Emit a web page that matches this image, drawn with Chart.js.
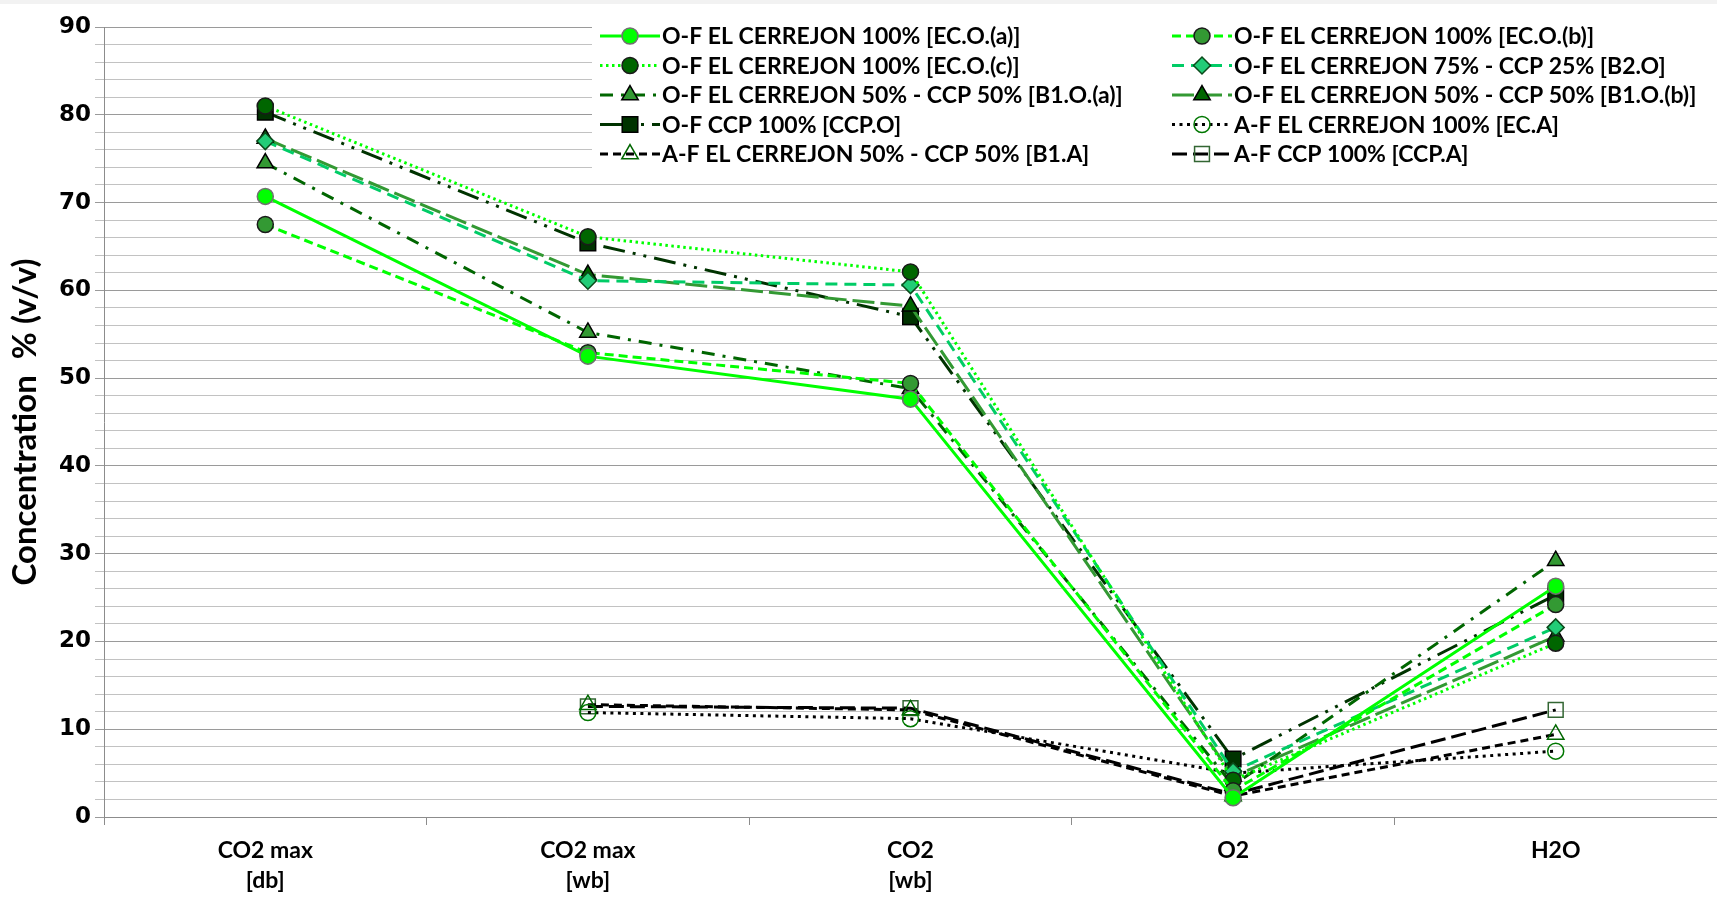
<!DOCTYPE html>
<html>
<head>
<meta charset="utf-8">
<script src="https://cdn.jsdelivr.net/npm/chart.js@4/dist/chart.umd.min.js"></script>
<style>
  html, body { margin: 0; padding: 0; background: #fff; }
  #wrap { width: 1717px; height: 910px; }
</style>
</head>
<body>
<div id="wrap"><canvas id="chart" width="1717" height="910"></canvas></div>
<script>
const categories = [["CO2 max", "[db]"], ["CO2 max", "[wb]"], ["CO2", "[wb]"], "O2", "H2O"];

const ecoA = [70.7, 52.5, 47.6, 2.2, 26.3];
const ecoB = [67.5, 52.9, 49.4, 3.0, 24.2];
const ecoC = [81.0, 66.1, 62.1, 4.2, 19.8];
const b2o  = [77.0, 61.1, 60.6, 5.2, 21.6];
const b1oA = [74.5, 55.2, 48.8, 3.6, 29.2];
const b1oB = [77.3, 61.8, 58.2, 4.6, 20.6];
const ccpO = [80.3, 65.4, 57.0, 6.6, 25.3];
const ecA  = [null, 11.9, 11.2, 5.0, 7.5];
const b1A  = [null, 12.8, 12.2, 2.4, 9.4];
const ccpA = [null, 12.6, 12.4, 2.6, 12.2];

const names = [
  "O-F EL CERREJON 100% [EC.O.(a)]",
  "O-F EL CERREJON 100% [EC.O.(b)]",
  "O-F EL CERREJON 100% [EC.O.(c)]",
  "O-F EL CERREJON 75% - CCP 25% [B2.O]",
  "O-F EL CERREJON 50% - CCP 50% [B1.O.(a)]",
  "O-F EL CERREJON 50% - CCP 50% [B1.O.(b)]",
  "O-F CCP 100% [CCP.O]",
  "A-F EL CERREJON 100% [EC.A]",
  "A-F EL CERREJON 50% - CCP 50% [B1.A]",
  "A-F CCP 100% [CCP.A]"
];

function ds(label, data, line, dash, style, fill, edge, r) {
  return {
    label, data,
    borderColor: line, borderWidth: 3, borderDash: dash, tension: 0,
    pointStyle: style, pointRadius: r, pointHoverRadius: r,
    pointBackgroundColor: fill, pointBorderColor: edge, pointBorderWidth: 1.5,
    spanGaps: false
  };
}

const datasets = [
  ds(names[0], ecoA, "#00ff00", [], "circle", "#00ff00", "#707070", 8),
  ds(names[1], ecoB, "#00ff00", [9, 5], "circle", "#339933", "#1a1a1a", 8),
  ds(names[2], ecoC, "#00ff00", [2.5, 3.5], "circle", "#006600", "#1a1a1a", 8),
  ds(names[3], b2o, "#00cc66", [12, 7], "rectRot", "#22cc77", "#0a4a1a", 8.5),
  ds(names[4], b1oA, "#006600", [13, 8, 3, 8], "triangle", "#339933", "#000000", 9.5),
  ds(names[5], b1oB, "#339933", [22, 6], "triangle", "#006600", "#000000", 9.5),
  ds(names[6], ccpO, "#003300", [22, 8, 3, 8, 3, 8], "rect", "#003300", "#000000", 11),
  ds(names[7], ecA, "#000000", [3, 4.5], "circle", "rgba(0,0,0,0)", "#007700", 8),
  ds(names[8], b1A, "#000000", [8, 5], "triangle", "rgba(0,0,0,0)", "#006600", 9.5),
  ds(names[9], ccpA, "#000000", [15, 6], "rect", "rgba(0,0,0,0)", "#336633", 10.5)
];

// two-column legend drawn on a white box inside the plot
const boxLegend = {
  id: "boxLegend",
  afterDraw(chart) {
    const ctx = chart.ctx;
    ctx.save();
    ctx.fillStyle = "#fff";
    ctx.fillRect(592, 18, 1717 - 592, 154);
    const colX = [600, 1172];
    const rowY = [36, 65.5, 95, 124.5, 154];
    ctx.font = "bold 23px Lato";
    ctx.textBaseline = "middle";
    chart.data.datasets.forEach((d, i) => {
      const x = colX[i % 2], y = rowY[Math.floor(i / 2)];
      ctx.strokeStyle = d.borderColor;
      ctx.lineWidth = d.borderWidth;
      ctx.setLineDash(d.borderDash);
      ctx.beginPath();
      ctx.moveTo(x, y);
      ctx.lineTo(x + 60, y);
      ctx.stroke();
      ctx.setLineDash([]);
      ctx.fillStyle = d.pointBackgroundColor;
      ctx.strokeStyle = d.pointBorderColor;
      ctx.lineWidth = d.pointBorderWidth;
      Chart.helpers.drawPoint(ctx, { pointStyle: d.pointStyle, radius: d.pointRadius, borderWidth: d.pointBorderWidth, rotation: 0 }, x + 30, y);
      ctx.fillStyle = "#000";
      ctx.fillText(d.label, x + 62, y + 1);
    });
    ctx.fillStyle = "#f2f2f2";
    ctx.fillRect(0, 0, 1717, 4);
    ctx.restore();
  }
};

new Chart(document.getElementById("chart"), {
  type: "line",
  data: { labels: categories, datasets },
  plugins: [boxLegend],
  options: {
    responsive: false,
    animation: false,
    devicePixelRatio: 1,
    layout: { autoPadding: false, padding: { top: 27, right: 0, left: 0, bottom: 0 } },
    plugins: { legend: { display: false }, tooltip: { enabled: false } },
    scales: {
      x: {
        offset: true,
        afterFit: s => { s.height = 93; s.paddingLeft = 0; s.paddingRight = 0; },
        grid: { drawOnChartArea: false, drawTicks: true, tickLength: 8, color: "#8c8c8c", offset: true },
        border: { color: "#8c8c8c", width: 1 },
        ticks: { color: "#000", padding: 10, font: { family: "Lato", weight: "bold", size: 23, lineHeight: 1.33 } }
      },
      y: {
        min: 0, max: 90,
        afterFit: s => { s.width = 104; },
        ticks: {
          stepSize: 2, autoSkip: false, color: "#000", padding: 4,
          font: { family: "DejaVu Sans", weight: "bold", size: 23 },
          callback: v => (v % 10 === 0 ? v : "")
        },
        grid: {
          tickLength: 9,
          color: c => (c.tick && c.tick.value % 10 === 0 ? "#9a9a9a" : "#c2c2c2"),
          lineWidth: 1
        },
        border: { color: "#8c8c8c", width: 1 },
        title: {
          display: true, text: "Concentration  % (v/v)", color: "#000", padding: { top: 6, bottom: 0 },
          font: { family: "Lato", weight: "bold", size: 33 }
        }
      }
    }
  }
});
</script>
</body>
</html>
